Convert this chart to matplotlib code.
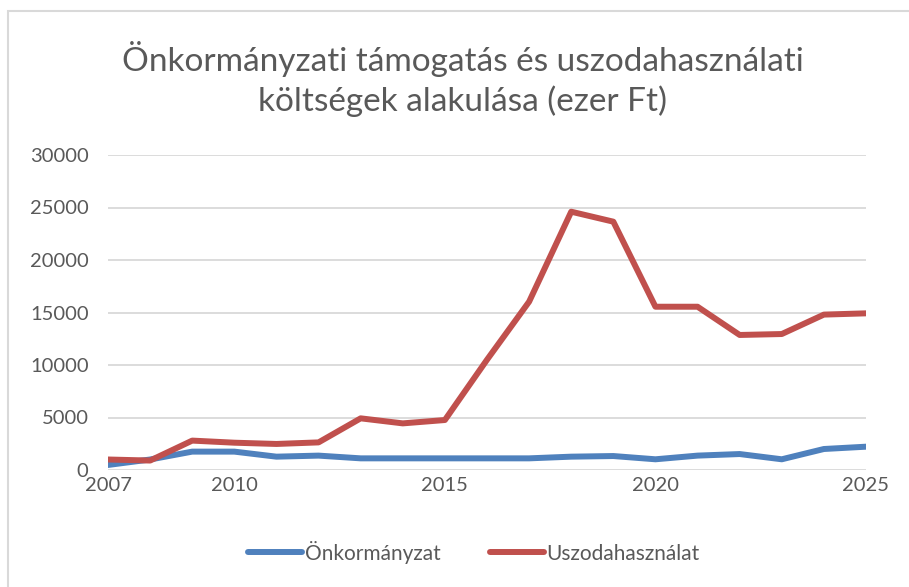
import matplotlib.pyplot as plt
from matplotlib.patches import Rectangle

# data
years = list(range(2007, 2026))
onkormanyzat = [480, 1000, 1750, 1750, 1270, 1370, 1110, 1110, 1110, 1110, 1110,
                1270, 1330, 1020, 1370, 1520, 1020, 2000, 2220]
uszoda = [1000, 900, 2800, 2600, 2480, 2630, 4920, 4440, 4760, 10500, 16030,
          24600, 23650, 15550, 15550, 12860, 12950, 14800, 14920]
x_ticks = [2007, 2010, 2015, 2020, 2025]
y_ticks = [0, 5000, 10000, 15000, 20000, 25000, 30000]

plt.rcParams['font.family'] = ['Lato', 'DejaVu Sans']
text_col = '#595959'

W, H = 909, 587
fig = plt.figure(figsize=(W / 100, H / 100), dpi=100)
ax = fig.add_axes([108 / W, 1 - 470 / H, (866 - 108) / W, (470 - 155) / H])

ax.plot(years, onkormanyzat, color='#4F81BD', lw=4.3, label='Önkormányzat',
        solid_joinstyle='round', solid_capstyle='round')
ax.plot(years, uszoda, color='#C0504D', lw=4.3, label='Uszodahasználat',
        solid_joinstyle='round', solid_capstyle='round')

ax.set_xlim(2007, 2025)
ax.set_ylim(0, 30000)
ax.set_xticks(x_ticks)
ax.set_yticks(y_ticks)
ax.grid(axis='y', color='#D9D9D9', lw=1.3)
ax.set_axisbelow(True)
for s in ax.spines.values():
    s.set_visible(False)
ax.tick_params(length=0, labelsize=14.5, labelcolor=text_col)
ax.tick_params(axis='y', pad=14)
ax.tick_params(axis='x', pad=5)

fig.text(463 / W, 1 - 79 / H,
         'Önkormányzati támogatás és uszodahasználati\nköltségek alakulása (ezer Ft)',
         ha='center', va='center', fontsize=24, color=text_col, linespacing=1.3)

leg = fig.legend(loc='center', bbox_to_anchor=(474 / W, 1 - 552 / H), ncol=2,
                 frameon=False, fontsize=15, handlelength=2.6, handletextpad=0.1,
                 columnspacing=2.4)
for t in leg.get_texts():
    t.set_color(text_col)

# outer chart border (only top/left visible in the crop)
fig.patches.append(Rectangle((8 / W, -0.1), 1.2, 1 - 11 / H + 0.1,
                             transform=fig.transFigure, fill=False,
                             edgecolor='#D9D9D9', lw=1.5))

fig.savefig('out.png', dpi=100)
